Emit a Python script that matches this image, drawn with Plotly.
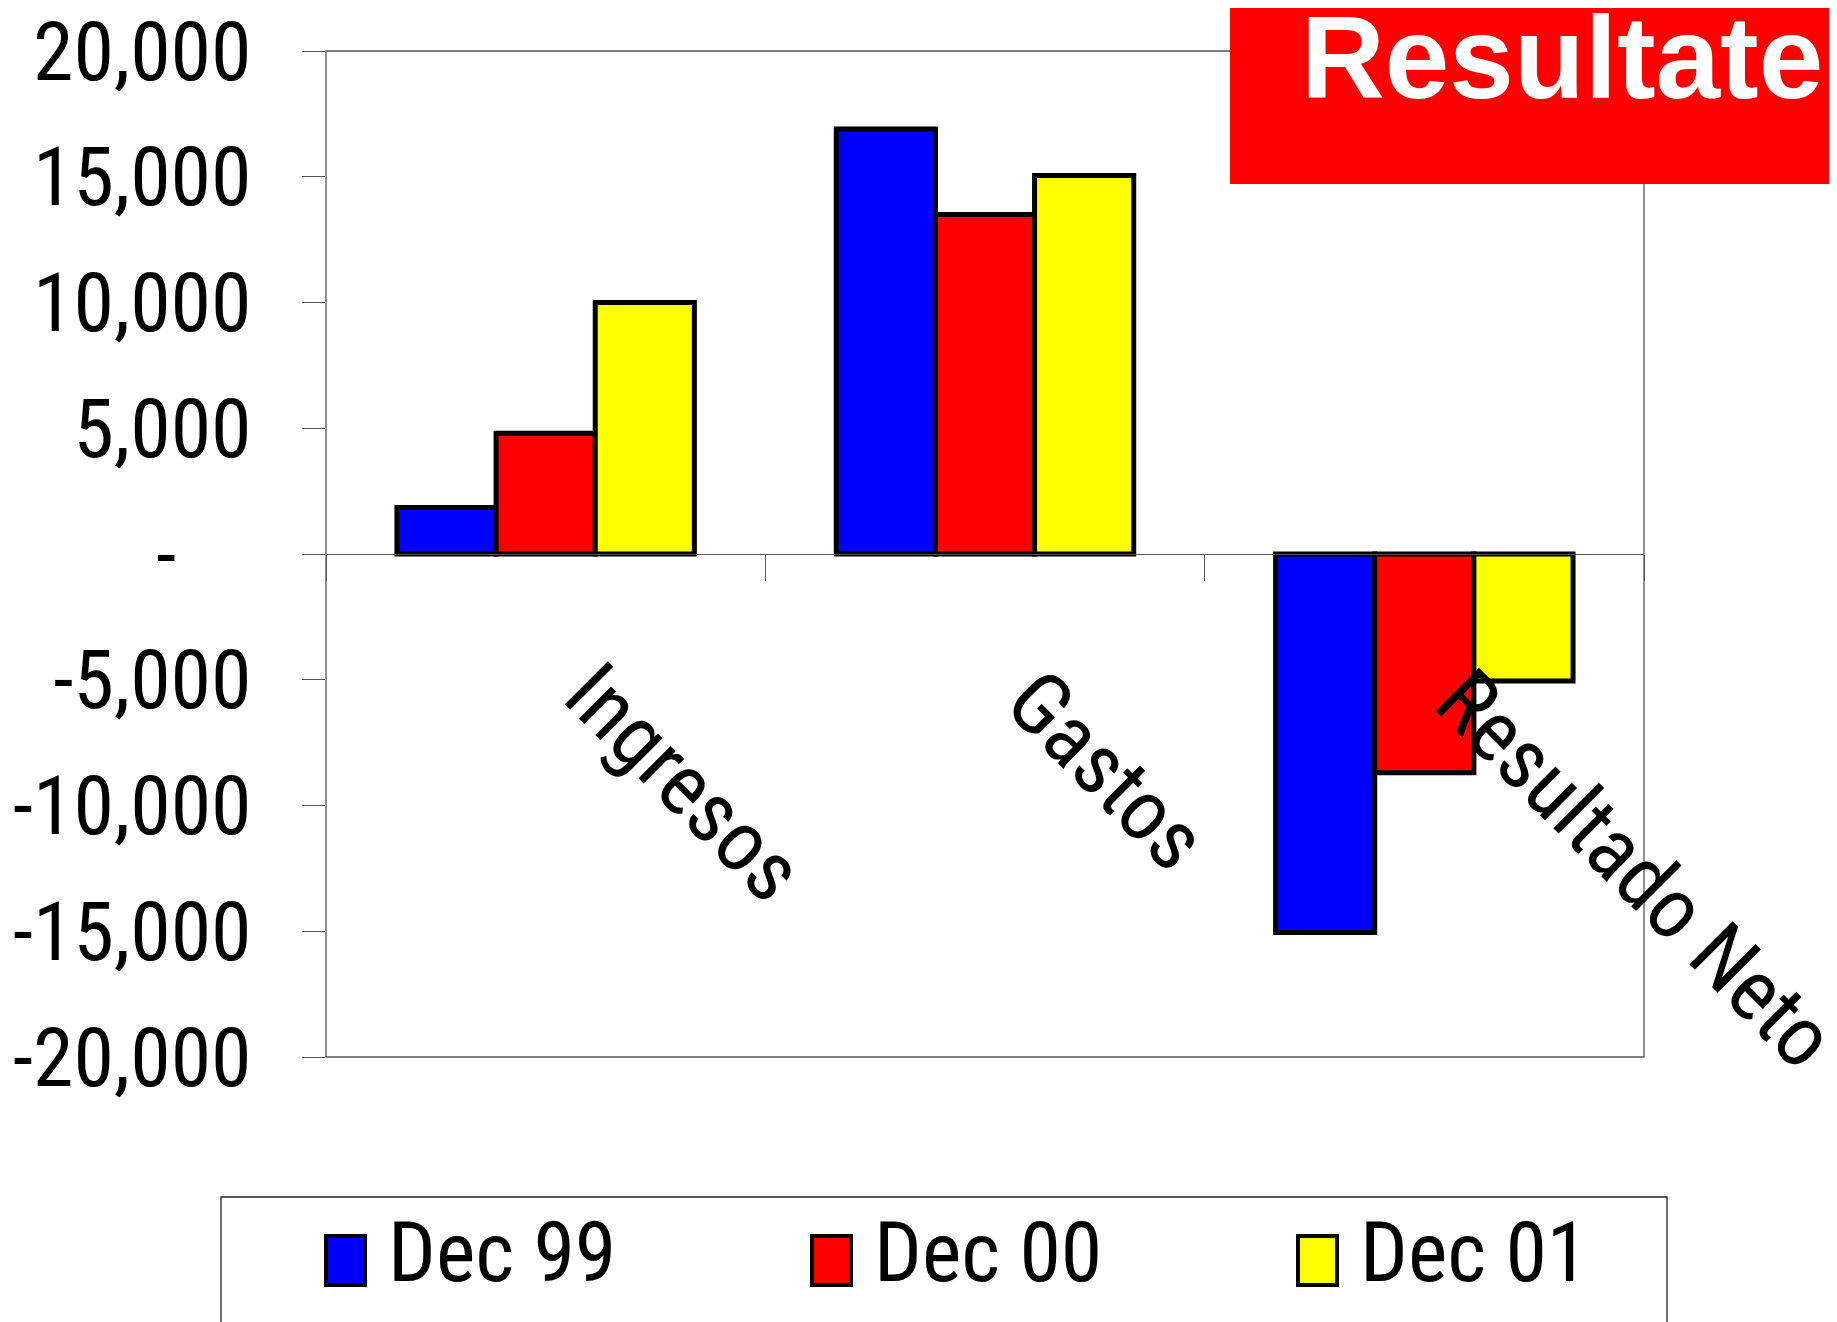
import plotly.graph_objects as go

# ---- data ----
categories = ["Ingresos", "Gastos", "Resultado Neto"]
series_names = ["Dec 99", "Dec 00", "Dec 01"]
dec99 = [1850, 16900, -15050]
dec00 = [4800, 13500, -8700]
dec01 = [10000, 15050, -5050]
series_values = [dec99, dec00, dec01]
series_colors = ["#0000FF", "#FF0000", "#FFFF00"]
tick_vals = [20000, 15000, 10000, 5000, 0, -5000, -10000, -15000, -20000]
tick_text = ["20,000", "15,000", "10,000", "5,000", "-\u00a0\u00a0\u00a0\u00a0",
             "-5,000", "-10,000", "-15,000", "-20,000"]
title_text = "Resultate"

# page offset (body margin) and target screen geometry
OFF = 8
W, H = 1837 - OFF, 1322 - OFF
L, R, T, B = 326, 1644, 51, 1057  # plot area, screen pixels
NARROW = "Roboto Condensed, Liberation Sans Narrow, Liberation Sans, Arial, sans-serif"
BOLD = "Liberation Sans, Arial, sans-serif"
AXC = "#555555"


def px(xs):
    return (xs - L) / (R - L)


def py(ys):
    return (B - ys) / (B - T)


fig = go.Figure()
for name, vals, col in zip(series_names, series_values, series_colors):
    fig.add_trace(go.Bar(
        x=categories, y=vals, name=name,
        marker=dict(color=col, line=dict(color="black", width=5)),
        showlegend=False,
    ))

shapes = []
annotations = []

# plot frame
shapes.append(dict(type="rect", xref="paper", yref="paper", x0=0, x1=1, y0=0, y1=1,
                   line=dict(color=AXC, width=1.3), layer="below"))

# title box
shapes.append(dict(type="rect", xref="paper", yref="paper",
                   x0=px(1230), x1=px(1900), y0=py(184), y1=py(-20),
                   fillcolor="#FF0000", line=dict(width=0), layer="above"))
annotations.append(dict(text=title_text, xref="paper", yref="paper",
                        x=px(1299), y=py(58), xanchor="left", yanchor="middle",
                        showarrow=False,
                        font=dict(family=BOLD, size=116, color="white", weight="bold")))

# category labels (rotated)
label_centers = [(139, 782), (122, 770), (212, 869)]
for cat, (dx, yc) in zip(categories, label_centers):
    annotations.append(dict(text=cat, xref="x", yref="paper", x=cat, xshift=dx,
                            y=py(yc), xanchor="center", yanchor="middle",
                            textangle=45, showarrow=False,
                            font=dict(family=NARROW, size=86, color="black")))

# legend (manual, large swatches)
shapes.append(dict(type="rect", xref="paper", yref="paper",
                   x0=px(221), x1=px(1667), y0=py(1340), y1=py(1197),
                   line=dict(color="#222222", width=1.3), fillcolor="white"))
for i, (name, col) in enumerate(zip(series_names, series_colors)):
    x0 = 326 + i * 486
    shapes.append(dict(type="rect", xref="paper", yref="paper",
                       x0=px(x0), x1=px(x0 + 39), y0=py(1285), y1=py(1236),
                       fillcolor=col, line=dict(color="black", width=4)))
    annotations.append(dict(text=name, xref="paper", yref="paper",
                            x=px(x0 + 60), y=py(1252), xanchor="left", yanchor="middle",
                            showarrow=False,
                            font=dict(family=NARROW, size=84, color="black")))

fig.update_layout(
    width=W, height=H,
    margin=dict(l=L - OFF, r=W - (R - OFF), t=T - OFF, b=H - (B - OFF), pad=0),
    paper_bgcolor="white", plot_bgcolor="white",
    barmode="group", bargap=0.323, bargroupgap=0,
    shapes=shapes, annotations=annotations,
    xaxis=dict(
        type="category", range=[-0.5, 2.5], autorange=False,
        anchor="free", position=0.5, automargin=False,
        showline=True, linecolor=AXC, linewidth=1.3,
        ticks="outside", tickson="boundaries", ticklen=26, tickcolor=AXC, tickwidth=1.3,
        showticklabels=False, showgrid=False, zeroline=False,
    ),
    yaxis=dict(
        range=[-20000, 20000], autorange=False,
        tickvals=tick_vals, ticktext=tick_text, automargin=False,
        ticklabeloverflow="allow",
        ticks="outside", ticklen=23, tickcolor=AXC, tickwidth=1.3,
        showline=False, showgrid=False, zeroline=False,
        tickfont=dict(family=NARROW, size=82, color="black"),
        ticklabelstandoff=34,
    ),
)

fig.write_html("out.html")
